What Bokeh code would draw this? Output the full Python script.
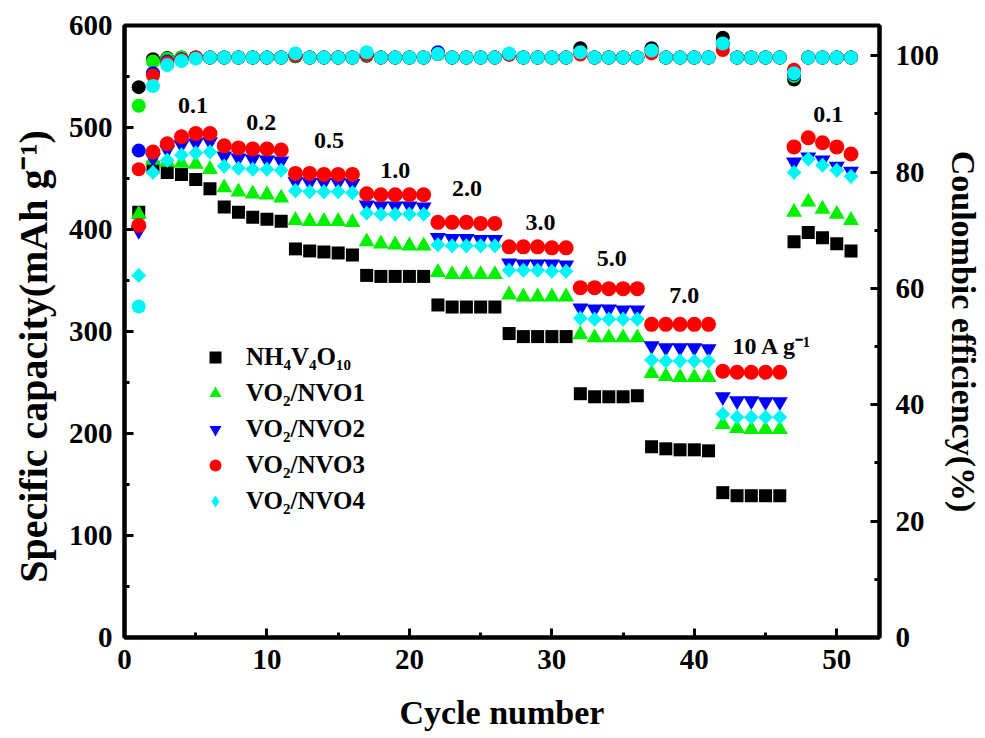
from bokeh.plotting import figure
from bokeh.models import (Range1d, LinearAxis, SingleIntervalTicker, Legend,
                          LegendItem, Label)
from bokeh.embed import file_html
from bokeh.resources import INLINE
import numpy as np

# ---------------- data ----------------
cycles = list(range(1, 52))

# specific capacity (mAh g-1)
cap_nvo = [417, 461, 456, 454, 449, 440, 422, 417, 412, 410, 408,
           381, 379, 378, 377, 375, 355, 354, 354, 354, 354,
           326, 324, 324, 324, 324, 298, 295, 295, 295, 295,
           239, 236, 236, 236, 237, 187, 185, 184, 184, 183,
           142, 139, 139, 139, 139, 388, 397, 392, 386, 379]
cap_nvo1 = [415, 468, 466, 465, 464, 459, 441, 437, 435, 434, 431,
            409, 408, 408, 408, 407, 388, 386, 385, 384, 384,
            358, 356, 356, 356, 356, 336, 334, 334, 334, 334,
            297, 294, 294, 294, 294, 259, 256, 255, 255, 255,
            209, 205, 204, 204, 204, 417, 427, 420, 415, 409]
cap_nvo2 = [399, 470, 478, 483, 485, 486, 472, 470, 469, 468, 467,
            447, 446, 446, 446, 445, 424, 423, 423, 423, 422,
            392, 391, 391, 390, 390, 367, 366, 366, 366, 365,
            323, 322, 322, 321, 321, 286, 284, 284, 284, 283,
            236, 232, 232, 231, 231, 466, 471, 468, 462, 457]
cap_nvo3 = [404, 476, 484, 491, 494, 494, 482, 480, 479, 479, 478,
            455, 455, 454, 454, 454, 435, 434, 434, 434, 434,
            407, 407, 407, 406, 406, 383, 383, 383, 382, 382,
            343, 343, 342, 342, 342, 307, 307, 307, 307, 307,
            261, 260, 260, 260, 260, 481, 490, 485, 481, 474]
cap_nvo4 = [355, 456, 468, 473, 475, 476, 462, 460, 459, 459, 458,
            438, 437, 437, 437, 436, 416, 415, 415, 415, 415,
            385, 384, 384, 384, 384, 360, 360, 360, 359, 359,
            313, 312, 312, 312, 312, 272, 271, 271, 271, 271,
            219, 216, 216, 216, 216, 456, 469, 463, 458, 452]

# coulombic efficiency (%)
ce_nvo = [94.6, 99.4, 99.6, 99.7, 99.7, 99.7, 99.7, 99.7, 99.7, 99.7, 99.7,
          99.9, 99.7, 99.7, 99.7, 99.7, 100.0, 99.7, 99.7, 99.7, 99.7,
          100.3, 99.7, 99.7, 99.7, 99.7, 100.2, 99.7, 99.7, 99.7, 99.7,
          101.3, 99.7, 99.7, 99.7, 99.7, 101.3, 99.7, 99.7, 99.7, 99.7,
          103.1, 99.7, 99.7, 99.7, 99.7, 95.9, 99.7, 99.7, 99.7, 99.7]
ce_nvo1 = [91.4, 99.0, 99.5, 99.7, 99.7, 99.7, 99.7, 99.7, 99.7, 99.7, 99.7,
           100.0, 99.7, 99.7, 99.7, 99.7, 100.1, 99.7, 99.7, 99.7, 99.7,
           100.3, 99.7, 99.7, 99.7, 99.7, 100.2, 99.7, 99.7, 99.7, 99.7,
           100.5, 99.7, 99.7, 99.7, 99.7, 100.8, 99.7, 99.7, 99.7, 99.7,
           102.0, 99.7, 99.7, 99.7, 99.7, 96.5, 99.7, 99.7, 99.7, 99.7]
ce_nvo2 = [83.7, 97.0, 99.0, 99.4, 99.7, 99.7, 99.7, 99.7, 99.7, 99.7, 99.7,
           100.1, 99.7, 99.7, 99.7, 99.7, 100.2, 99.7, 99.7, 99.7, 99.7,
           100.6, 99.7, 99.7, 99.7, 99.7, 100.2, 99.7, 99.7, 99.7, 99.7,
           100.5, 99.7, 99.7, 99.7, 99.7, 100.8, 99.7, 99.7, 99.7, 99.7,
           102.0, 99.7, 99.7, 99.7, 99.7, 96.8, 99.7, 99.7, 99.7, 99.7]
ce_nvo3 = [80.5, 96.6, 98.8, 99.3, 99.7, 99.7, 99.7, 99.7, 99.7, 99.7, 99.7,
           100.1, 99.7, 99.7, 99.7, 99.7, 100.2, 99.7, 99.7, 99.7, 99.7,
           100.3, 99.7, 99.7, 99.7, 99.7, 100.2, 99.7, 99.7, 99.7, 99.7,
           100.2, 99.7, 99.7, 99.7, 99.7, 100.4, 99.7, 99.7, 99.7, 99.7,
           101.0, 99.7, 99.7, 99.7, 99.7, 97.6, 99.7, 99.7, 99.7, 99.7]
ce_nvo4 = [56.9, 94.8, 98.4, 99.1, 99.5, 99.7, 99.7, 99.7, 99.7, 99.7, 99.7,
           100.4, 99.7, 99.7, 99.7, 99.7, 100.6, 99.7, 99.7, 99.7, 99.7,
           100.3, 99.7, 99.7, 99.7, 99.7, 100.4, 99.7, 99.7, 99.7, 99.7,
           100.6, 99.7, 99.7, 99.7, 99.7, 100.9, 99.7, 99.7, 99.7, 99.7,
           102.1, 99.7, 99.7, 99.7, 99.7, 97.0, 99.7, 99.7, 99.7, 99.7]

series_names = ["NH₄V₄O₁₀", "VO₂/NVO1", "VO₂/NVO2", "VO₂/NVO3", "VO₂/NVO4"]

# current-density labels (A g-1) for each rate step
rate_labels = ["0.1", "0.2", "0.5", "1.0", "2.0", "3.0", "5.0", "7.0",
               "10 A g⁻¹", "0.1"]

x_title = "Cycle number"
y_title = "Specific capacity(mAh g⁻¹)"
y2_title = "Coulombic efficiency(%)"

# ---------------- styling / placement ----------------
colors = ["#000000", "#00F000", "#0000FF", "#FF0000", "#00F5F5"]
markers = ["square", "triangle", "inverted_triangle", "circle", "square"]
marker_sizes = [13, 16, 16, 15, 10.5]
marker_angles = [0, 0, 0, 0, np.pi / 4]
ce_size = 14

# label anchor points (cycle, capacity) for the rate annotations
label_pos_x = [4.8, 9.6, 14.35, 19.0, 24.05, 29.2, 34.2, 39.3, 45.5, 49.4]
label_pos_y = [522, 505, 487, 458, 440, 407, 372, 335, 286, 513]

FONT = "Liberation Serif"

p = figure(width=985, height=738, output_backend="svg", toolbar_location=None,
           x_range=Range1d(0, 53), y_range=Range1d(0, 600),
           min_border_left=124, min_border_right=101,
           min_border_top=25, min_border_bottom=101,
           background_fill_color="white", border_fill_color="white")
p.extra_y_ranges = {"ce": Range1d(0, 105.2)}
p.xgrid.visible = False
p.ygrid.visible = False
p.outline_line_color = "black"
p.outline_line_width = 4
p.outline_line_alpha = 1.0

right_axis = LinearAxis(y_range_name="ce")
p.add_layout(right_axis, "right")

p.xaxis.ticker = SingleIntervalTicker(interval=10, num_minor_ticks=2)
p.yaxis[0].ticker = SingleIntervalTicker(interval=100, num_minor_ticks=2)
right_axis.ticker = SingleIntervalTicker(interval=20, num_minor_ticks=2)

p.xaxis.axis_label = x_title
# trailing no-break spaces nudge the centred title a little towards the bottom
p.yaxis[0].axis_label = y_title + "\u00a0" * 5
right_axis.axis_label = y2_title

for ax in [p.xaxis[0], p.yaxis[0], right_axis]:
    ax.axis_line_width = 4
    ax.axis_line_color = "black"
    ax.major_tick_in = 9
    ax.major_tick_out = 0
    ax.minor_tick_in = 5
    ax.minor_tick_out = 0
    ax.major_tick_line_width = 3
    ax.minor_tick_line_width = 3
    ax.major_tick_line_color = "black"
    ax.minor_tick_line_color = "black"
    ax.major_label_text_font = FONT
    ax.major_label_text_font_style = "bold"
    ax.major_label_text_font_size = "29px"
    ax.major_label_text_color = "black"
    ax.major_label_standoff = 12
    ax.axis_label_text_font = FONT
    ax.axis_label_text_font_style = "bold"
    ax.axis_label_text_color = "black"

p.xaxis[0].axis_label_text_font_size = "34px"
p.xaxis[0].axis_label_standoff = 22
p.yaxis[0].axis_label_text_font_size = "40px"
p.yaxis[0].axis_label_standoff = 10
right_axis.major_label_standoff = 16
right_axis.axis_label_text_font_size = "34px"
right_axis.axis_label_standoff = 3

caps = [cap_nvo, cap_nvo1, cap_nvo2, cap_nvo3, cap_nvo4]
ces = [ce_nvo, ce_nvo1, ce_nvo2, ce_nvo3, ce_nvo4]

legend_items = []
for name, cap, col, mk, sz, ang in zip(series_names, caps, colors, markers,
                                       marker_sizes, marker_angles):
    key = None
    if ang:
        # legend keys are never rotated: a diamond drawn underneath the
        # tilted squares stands in as this series' legend key
        key = p.scatter(cycles, cap, marker="diamond", size=15,
                        fill_color=col, line_color=None)
    r = p.scatter(cycles, cap, marker=mk, size=sz, angle=ang,
                  fill_color=col, line_color=None)
    legend_items.append(LegendItem(label=name, renderers=[key or r]))

for ce, col in zip(ces, colors):
    p.scatter(cycles, ce, marker="circle", size=ce_size, fill_color=col,
              line_color=None, y_range_name="ce")

for txt, lx, ly in zip(rate_labels, label_pos_x, label_pos_y):
    p.add_layout(Label(x=lx, y=ly, text=txt, text_align="center",
                       text_baseline="alphabetic", text_font=FONT,
                       text_font_style="bold", text_font_size="24px",
                       text_color="black"))

legend = Legend(items=legend_items, location=(76, 118),
                glyph_width=30, glyph_height=36, label_height=36,
                label_standoff=16, spacing=0, padding=0, margin=0,
                label_text_font=FONT, label_text_font_style="bold",
                label_text_font_size="25px", label_text_color="black",
                background_fill_alpha=0, border_line_alpha=0)
p.add_layout(legend, "center")

open("out.html", "w").write(file_html(p, INLINE))
